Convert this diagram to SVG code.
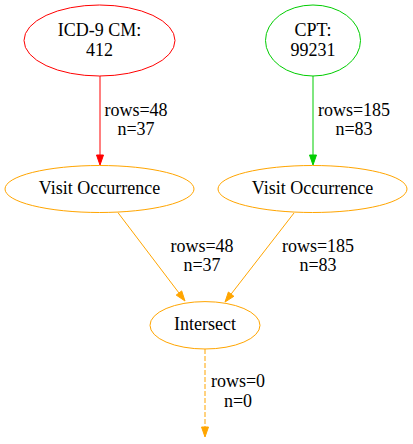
<svg xmlns="http://www.w3.org/2000/svg" width="413" height="444" viewBox="0 0 413 444">
<style>
text{font-family:"Liberation Serif","DejaVu Serif",Times,serif;font-size:18px;text-anchor:middle;fill:#000}
.n{fill:none;stroke-width:1}
.o{stroke:#ffa500}
.e{fill:none;stroke-width:1}
</style>
<rect width="413" height="444" fill="#fff"/>
<g id="connectors">
<g id="e1"><line class="e" x1="100" y1="76" x2="100" y2="155" stroke="#ff0000"/><polygon points="96.5,155 100,165 103.5,155" fill="#ff0000" stroke="#ff0000"/>
<text x="136" y="116">rows=48</text><text x="136" y="135">n=37</text></g>
<g id="e2"><line class="e" x1="313" y1="76" x2="313" y2="155" stroke="#00cd00"/><polygon points="309.5,155 313,165 316.5,155" fill="#00cd00" stroke="#00cd00"/>
<text x="354" y="116">rows=185</text><text x="354" y="135">n=83</text></g>
<g id="e3"><line class="e o" x1="118" y1="212.7" x2="179" y2="293"/><polygon points="176.2,295.1 185,301 181.7,290.9" fill="#ffa500" stroke="#ffa500"/>
<text x="202" y="251.5">rows=48</text><text x="202" y="270.5">n=37</text></g>
<g id="e4"><line class="e o" x1="294" y1="213" x2="231.1" y2="294.1"/><polygon points="233.9,296.3 225,302 228.4,292" fill="#ffa500" stroke="#ffa500"/>
<text x="318" y="251.5">rows=185</text><text x="318" y="270.5">n=83</text></g>
<g id="e5"><line class="e o" x1="205" y1="349" x2="205" y2="427" stroke-dasharray="5,2"/><polygon points="201.5,427 205,437 208.5,427" fill="#ffa500" stroke="#ffa500"/>
<text x="238" y="387">rows=0</text><text x="238" y="406.5">n=0</text></g>
</g>
<g id="icd"><ellipse class="n" cx="99.5" cy="40.5" rx="75.5" ry="35.5" stroke="#ff0000"/><text x="99.5" y="36">ICD-9 CM:</text><text x="99.5" y="56">412</text></g>
<g id="cpt"><ellipse class="n" cx="313" cy="40.5" rx="47.5" ry="35.5" stroke="#00cd00"/><text x="313" y="36">CPT:</text><text x="313" y="56">99231</text></g>
<g id="visit1"><ellipse class="n o" cx="99.5" cy="189" rx="94.5" ry="23.5"/><text x="99.5" y="193.5">Visit Occurrence</text></g>
<g id="visit2"><ellipse class="n o" cx="312.5" cy="189" rx="94.5" ry="23.5"/><text x="312.5" y="193.5">Visit Occurrence</text></g>
<g id="intersect"><ellipse class="n o" cx="205" cy="325.3" rx="55" ry="23.7"/><text x="205" y="329.5">Intersect</text></g>
</svg>
